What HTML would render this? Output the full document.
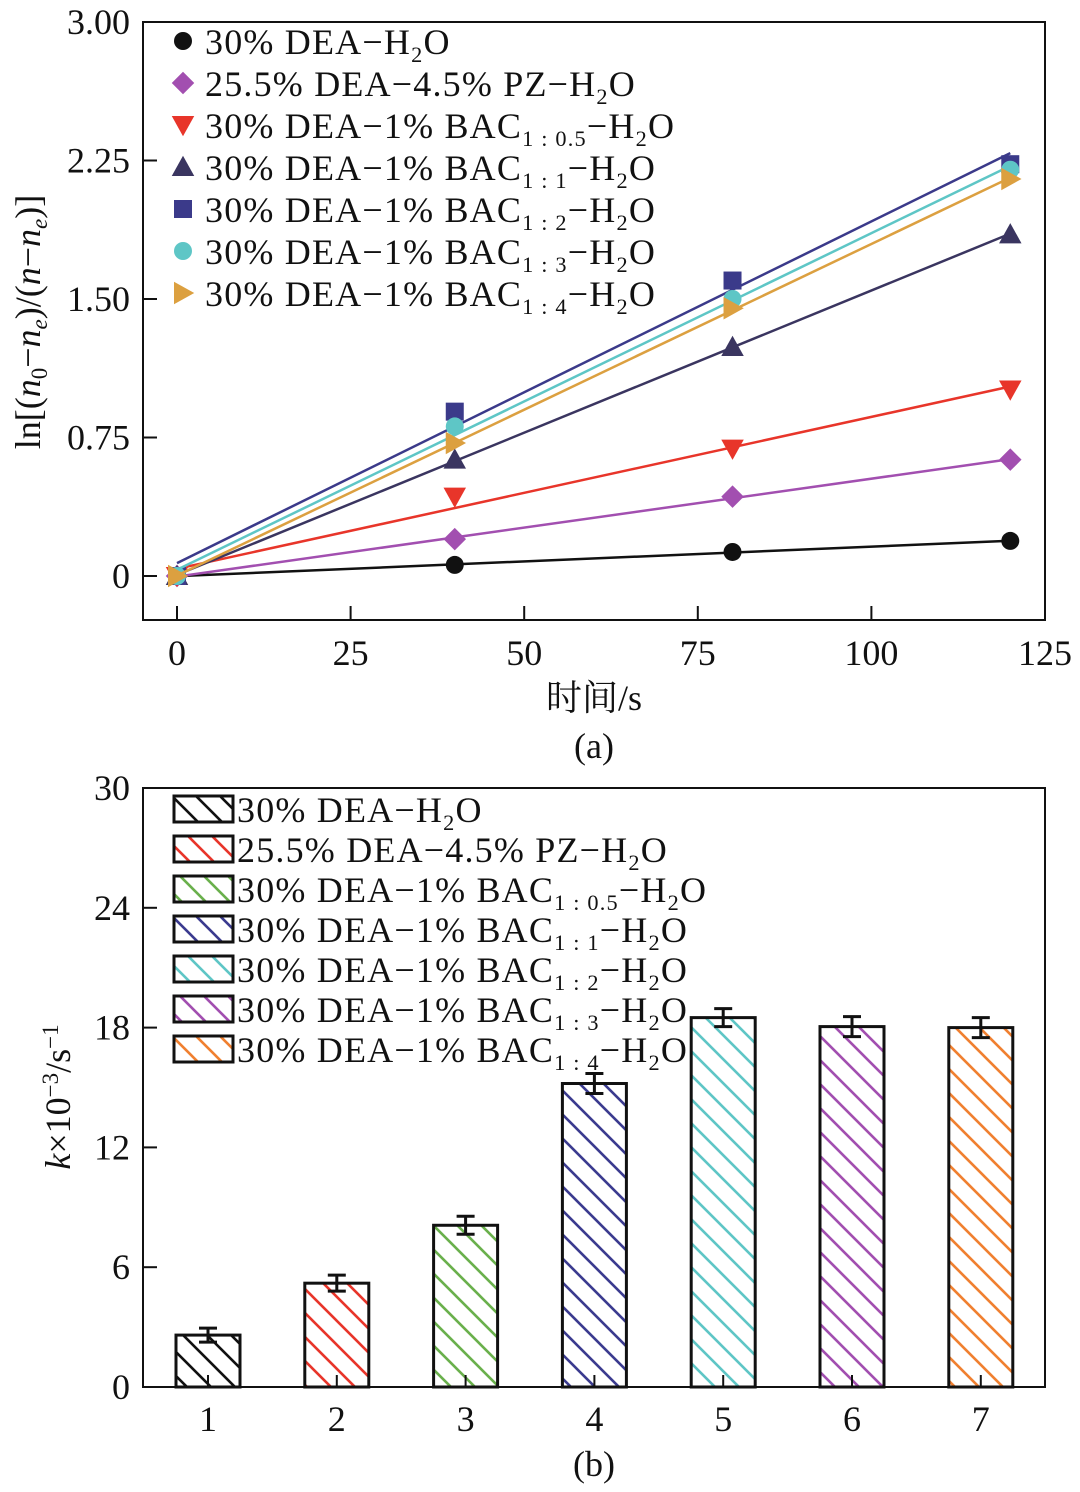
<!DOCTYPE html>
<html><head><meta charset="utf-8"><style>
html,body{margin:0;padding:0;background:#fff;}
svg{display:block;font-family:"Liberation Serif","Noto Serif CJK SC",serif;}
</style></head><body>
<svg id="s" width="1080" height="1492" viewBox="0 0 1080 1492" xmlns="http://www.w3.org/2000/svg">
<defs id="defs"></defs>
</svg>
<script>
// ---- chart (a) data ----
const times = [0, 40, 80, 120];
const seriesA_dea = [0, 0.06, 0.13, 0.19];
const seriesA_pz = [0, 0.20, 0.43, 0.63];
const seriesA_b05 = [0, 0.43, 0.69, 1.01];
const seriesA_b11 = [0, 0.63, 1.24, 1.85];
const seriesA_b12 = [0, 0.89, 1.60, 2.23];
const seriesA_b13 = [0, 0.81, 1.50, 2.20];
const seriesA_b14 = [0, 0.72, 1.45, 2.15];
const xTicksA = [0, 25, 50, 75, 100, 125];
const yTicksA = [0, 0.75, 1.50, 2.25, 3.00];
const yTickLabelsA = ["0", "0.75", "1.50", "2.25", "3.00"];
// ---- chart (b) data ----
const categoriesB = ["1", "2", "3", "4", "5", "6", "7"];
const valuesB = [2.6, 5.2, 8.1, 15.2, 18.5, 18.05, 18.0];
const errorsB = [0.35, 0.4, 0.45, 0.5, 0.45, 0.5, 0.5];
const yTicksB = [0, 6, 12, 18, 24, 30];

const NS = "http://www.w3.org/2000/svg";
const svg = document.getElementById('s');
const defs = document.getElementById('defs');
const FS = 36;
function mk(tag, attrs, parent) {
  const e = document.createElementNS(NS, tag);
  for (const k in attrs) e.setAttribute(k, attrs[k]);
  (parent || svg).appendChild(e);
  return e;
}
function label(x, y, parts, size, parent) {
  const t = mk('text', {x: x, y: y, 'font-size': size, fill: '#111', 'letter-spacing': 1.2}, parent);
  parts.forEach(p => {
    const ts = mk('tspan', {}, t);
    if (p[1]) { ts.setAttribute('font-size', size * 0.62); ts.setAttribute('dy', size * 0.22); }
    else if (p[2]) { ts.setAttribute('dy', -size * 0.22); }
    ts.textContent = p[0];
  });
  return t;
}
function legendParts(i) {
  const L = [
    [["30% DEA−H"], ["2", 1], ["O", 0, 1]],
    [["25.5% DEA−4.5% PZ−H"], ["2", 1], ["O", 0, 1]],
    [["30% DEA−1% BAC"], ["1 : 0.5", 1], ["−H", 0, 1], ["2", 1], ["O", 0, 1]],
    [["30% DEA−1% BAC"], ["1 : 1", 1], ["−H", 0, 1], ["2", 1], ["O", 0, 1]],
    [["30% DEA−1% BAC"], ["1 : 2", 1], ["−H", 0, 1], ["2", 1], ["O", 0, 1]],
    [["30% DEA−1% BAC"], ["1 : 3", 1], ["−H", 0, 1], ["2", 1], ["O", 0, 1]],
    [["30% DEA−1% BAC"], ["1 : 4", 1], ["−H", 0, 1], ["2", 1], ["O", 0, 1]]
  ];
  return L[i];
}

// ================= Chart A =================
const A = {x0: 143, x1: 1045, y0: 22, y1: 620};
const xA = v => 177 + (v / 125) * (1045 - 177);
const yA = v => 576 - (v / 3) * (576 - 22);
const gA = mk('g', {});


const frameA = mk('rect', {x: A.x0, y: A.y0, width: A.x1 - A.x0, height: A.y1 - A.y0, fill: 'none', stroke: '#111', 'stroke-width': 2}, gA);


xTicksA.forEach(v => {
  const x = xA(v);
  if (v < 125) mk('line', {x1: x, x2: x, y1: A.y1, y2: A.y1 - 14, stroke: '#111', 'stroke-width': 2}, gA);
  const t = mk('text', {x: x, y: 665, 'font-size': FS, 'text-anchor': 'middle', fill: '#111'}, gA);
  
  
  t.textContent = v;
});
yTicksA.forEach((v, i) => {
  const y = yA(v);
  mk('line', {x1: A.x0, x2: A.x0 + 14, y1: y, y2: y, stroke: '#111', 'stroke-width': 2}, gA);
  const t = mk('text', {x: 130, y: y + 12, 'font-size': FS, 'text-anchor': 'end', fill: '#111'}, gA);
  
  
  t.textContent = yTickLabelsA[i];
});
const xt = mk('text', {x: 594, y: 710, 'font-size': FS, 'text-anchor': 'middle', fill: '#111'}, gA);


xt.textContent = '时间/s';
const yt = mk('text', {x: 0, y: 0, 'font-size': FS, 'text-anchor': 'middle', fill: '#111', transform: 'translate(40,322) rotate(-90)'}, gA);


yt.innerHTML = 'ln[(<tspan font-style="italic">n</tspan><tspan font-size="23" dy="7">0</tspan><tspan dy="-7">−</tspan><tspan font-style="italic">n</tspan><tspan font-size="23" font-style="italic" dy="7">e</tspan><tspan dy="-7">)/(</tspan><tspan font-style="italic">n</tspan>−<tspan font-style="italic">n</tspan><tspan font-size="23" font-style="italic" dy="7">e</tspan><tspan dy="-7">)]</tspan>';
const capA = mk('text', {x: 594, y: 758, 'font-size': FS, 'text-anchor': 'middle', fill: '#111'});


capA.textContent = '(a)';

const seriesA = [seriesA_dea, seriesA_pz, seriesA_b05, seriesA_b11, seriesA_b12, seriesA_b13, seriesA_b14];
const colorsA = ['#111', '#a24fb0', '#e8352a', '#3a3560', '#3b3a8a', '#5ec6c6', '#dca040'];
const shapesA = ['circle', 'diamond', 'down', 'up', 'square', 'circle', 'right'];
const namesA = ['dea', 'pz', 'bac-1-0.5', 'bac-1-1', 'bac-1-2', 'bac-1-3', 'bac-1-4'];
function marker(shape, cx, cy, r, color, parent) {
  let e;
  if (shape === 'circle') e = mk('circle', {cx: cx, cy: cy, r: r, fill: color}, parent);
  else if (shape === 'square') e = mk('rect', {x: cx - r, y: cy - r, width: 2 * r, height: 2 * r, fill: color}, parent);
  else {
    const s = r * 1.25;
    let pts;
    if (shape === 'diamond') pts = [[cx, cy - s], [cx + s, cy], [cx, cy + s], [cx - s, cy]];
    if (shape === 'down') pts = [[cx - s, cy - s * 0.8], [cx + s, cy - s * 0.8], [cx, cy + s]];
    if (shape === 'up') pts = [[cx - s, cy + s * 0.8], [cx + s, cy + s * 0.8], [cx, cy - s]];
    if (shape === 'right') pts = [[cx - s * 0.8, cy - s], [cx - s * 0.8, cy + s], [cx + s, cy]];
    e = mk('polygon', {points: pts.map(p => p.join(',')).join(' '), fill: color}, parent);
  }
  return e;
}
seriesA.forEach((vals, si) => {
  const g = mk('g', {}, gA);
  
  
  const n = times.length;
  const mx = times.reduce((a, b) => a + b, 0) / n, my = vals.reduce((a, b) => a + b, 0) / n;
  let sxy = 0, sxx = 0;
  times.forEach((t, i) => { sxy += (t - mx) * (vals[i] - my); sxx += (t - mx) * (t - mx); });
  const k = sxy / sxx, b = my - k * mx;
  const ln = mk('line', {x1: xA(0), y1: yA(b), x2: xA(120), y2: yA(b + k * 120), stroke: colorsA[si], 'stroke-width': 2.5}, g);
  
  
  vals.forEach((v, i) => {
    const m = marker(shapesA[si], xA(times[i]), yA(v), 9, colorsA[si], g);
    
    
  });
});
const legA = mk('g', {}, gA);


for (let i = 0; i < 7; i++) {
  const y = 41 + i * 42;
  const g = mk('g', {}, legA);
  
  
  marker(shapesA[i], 183, y, 9, colorsA[i], g);
  label(205, y + 13, legendParts(i), FS, g);
}

// ================= Chart B =================
const B = {x0: 143, x1: 1045, y0: 788, y1: 1387};
const yB = v => 1387 - (v / 30) * (1387 - 788);
const xB = i => 208 + i * 128.8;
const colorsB = ['#111', '#e8352a', '#6ab04c', '#3b3b8f', '#5ec6c6', '#a24fb0', '#f08030'];
colorsB.forEach((c, i) => {
  const p = mk('pattern', {id: 'h' + i, patternUnits: 'userSpaceOnUse', width: 24, height: 24}, defs);
  mk('path', {d: 'M-4,-4 L28,28 M-4,20 L8,32 M20,-4 L28,4', stroke: c, 'stroke-width': 2.6, fill: 'none'}, p);
});
const gB = mk('g', {});


const frameB = mk('rect', {x: B.x0, y: B.y0, width: B.x1 - B.x0, height: B.y1 - B.y0, fill: 'none', stroke: '#111', 'stroke-width': 2}, gB);


yTicksB.forEach(v => {
  const y = yB(v);
  mk('line', {x1: B.x0, x2: B.x0 + 14, y1: y, y2: y, stroke: '#111', 'stroke-width': 2}, gB);
  const t = mk('text', {x: 130, y: y + 12, 'font-size': FS, 'text-anchor': 'end', fill: '#111'}, gB);
  
  
  t.textContent = v;
});
categoriesB.forEach((c, i) => {
  const x = xB(i);
  const v = valuesB[i], e = errorsB[i];
  const bar = mk('rect', {x: x - 32, y: yB(v), width: 64, height: yB(0) - yB(v), fill: 'url(#h' + i + ')', stroke: '#111', 'stroke-width': 3}, gB);
  
  
  const eb = mk('path', {d: `M${x},${yB(v - e)} V${yB(v + e)} M${x - 9},${yB(v + e)} H${x + 9} M${x - 9},${yB(v - e)} H${x + 9}`, stroke: '#111', 'stroke-width': 3, fill: 'none'}, gB);
  
  
  mk('line', {x1: x, x2: x, y1: B.y1, y2: B.y1 - 12, stroke: '#111', 'stroke-width': 2}, gB);
  const t = mk('text', {x: x, y: 1431, 'font-size': FS, 'text-anchor': 'middle', fill: '#111'}, gB);
  
  
  t.textContent = c;
});
const ytB = mk('text', {x: 0, y: 0, 'font-size': FS, 'text-anchor': 'middle', fill: '#111', transform: 'translate(70,1097) rotate(-90)'}, gB);


ytB.innerHTML = '<tspan font-style="italic">k</tspan>×10<tspan font-size="23" dy="-12">−3</tspan><tspan dy="12">/s</tspan><tspan font-size="23" dy="-12">−1</tspan>';
const capB = mk('text', {x: 594, y: 1476, 'font-size': FS, 'text-anchor': 'middle', fill: '#111'});


capB.textContent = '(b)';
const legB = mk('g', {}, gB);


for (let i = 0; i < 7; i++) {
  const y = 809 + i * 40;
  const g = mk('g', {}, legB);
  
  
  mk('rect', {x: 174, y: y - 13, width: 59, height: 26, fill: 'url(#h' + i + ')', stroke: '#111', 'stroke-width': 3}, g);
  label(237, y + 13, legendParts(i), FS, g);
}
</script>
</body></html>
